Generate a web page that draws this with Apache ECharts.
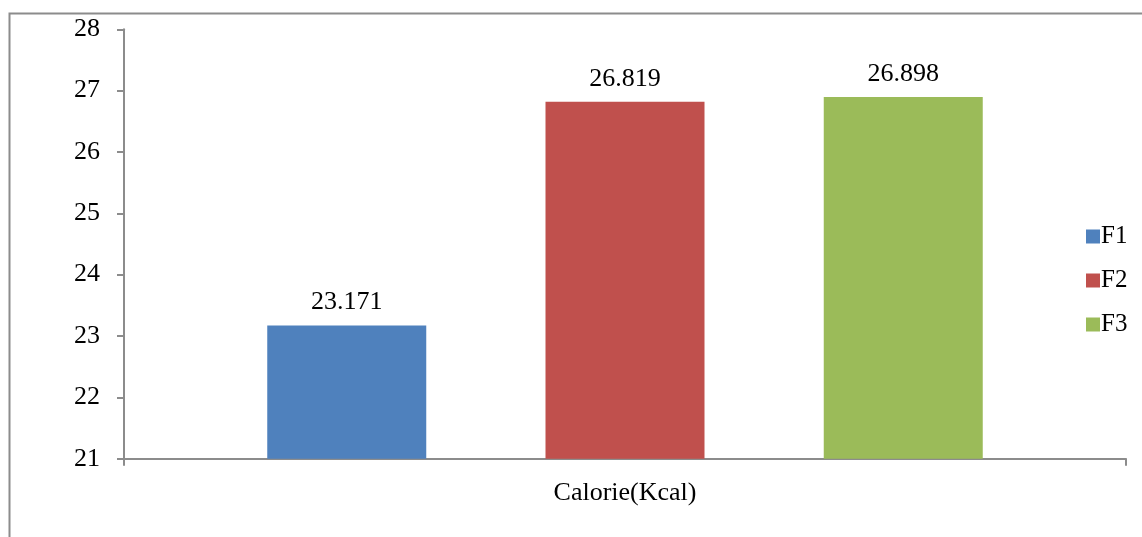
<!DOCTYPE html>
<html>
<head>
<meta charset="utf-8">
<script src="https://cdn.jsdelivr.net/npm/echarts@6/dist/echarts.min.js"></script>
<style>
  html, body { margin: 0; padding: 0; background: #fff; }
  #chart { width: 1142px; height: 537px; }
</style>
</head>
<body>
<div id="chart"></div>
<script>
// Chart data
const categories = ['Calorie(Kcal)'];
const seriesNames = ['F1', 'F2', 'F3'];
const seriesValues = [23.171, 26.819, 26.898];
const seriesColors = ['#4f81bd', '#c0504d', '#9bbb59'];
const yTicks = { min: 21, max: 28, interval: 1 };

const FONT = '"Liberation Serif", "Times New Roman", serif';

const chart = echarts.init(document.getElementById('chart'));

const series = seriesNames.map((name, i) => ({
  name: name,
  type: 'bar',
  data: [seriesValues[i]],
  barWidth: 159,
  barGap: '75%',
  itemStyle: { color: seriesColors[i] },
  label: {
    show: true,
    position: 'top',
    distance: 10,
    formatter: (p) => p.value.toFixed(3),
    color: '#000',
    fontFamily: FONT,
    fontSize: 26
  }
}));

chart.setOption({
  animation: false,
  backgroundColor: '#fff',
  graphic: [{
    type: 'rect',
    shape: { x: 9.5, y: 13.5, width: 1300, height: 700 },
    style: { fill: 'none', stroke: '#8c8c8c', lineWidth: 2 },
    silent: true,
    z: -10
  }],
  grid: { left: 124, right: 16, top: 29.3, bottom: 78.3, containLabel: false },
  legend: {
    orient: 'vertical',
    left: 1081,
    top: 219,
    itemWidth: 14,
    itemHeight: 14,
    itemGap: 19,
    icon: 'rect',
    textStyle: { fontFamily: FONT, fontSize: 25, color: '#000', padding: [0, 0, 0, -4] },
    data: seriesNames
  },
  xAxis: {
    type: 'category',
    data: categories,
    axisLine: { lineStyle: { color: '#8c8c8c', width: 2 } },
    axisTick: { show: true, length: 7, alignWithLabel: false, inside: false, lineStyle: { color: '#8c8c8c', width: 2 } },
    axisLabel: { fontFamily: FONT, fontSize: 26, color: '#000', margin: 21 },
    splitLine: { show: false }
  },
  yAxis: {
    type: 'value',
    min: yTicks.min,
    max: yTicks.max,
    interval: yTicks.interval,
    axisLine: { show: true, lineStyle: { color: '#8c8c8c', width: 2 } },
    axisTick: { show: true, length: 7, lineStyle: { color: '#8c8c8c', width: 2 } },
    axisLabel: { fontFamily: FONT, fontSize: 26, color: '#000', margin: 24 },
    splitLine: { show: false }
  },
  series: series
});
</script>
</body>
</html>
